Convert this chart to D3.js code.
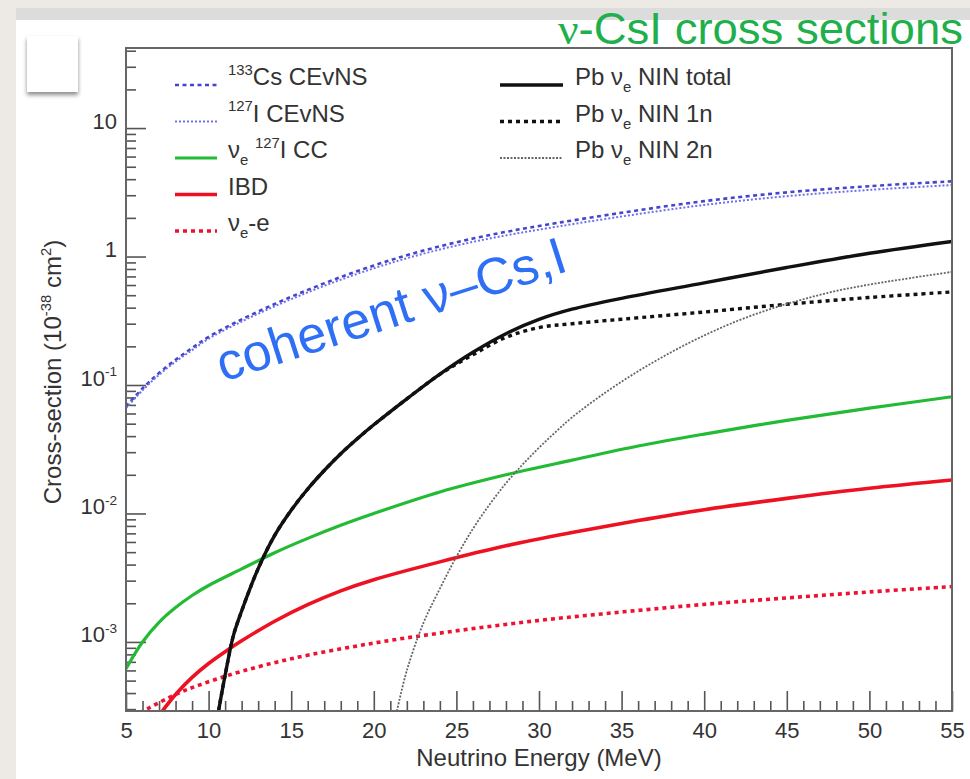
<!DOCTYPE html>
<html lang="en">
<head>
  <meta charset="utf-8" />
  <title>nu-CsI cross sections</title>
  <style>
    body {
      margin: 0;
      padding: 0;
      background-color: #edeae5;
      font-family: "Liberation Sans", Arial, sans-serif;
    }
    svg text {
      fill: #333;
    }
    .tick line {
      stroke: #555;
      stroke-width: 1.6px;
    }
    .curve {
      fill: none;
    }
  </style>
  <script src="https://d3js.org/d3.v7.min.js"></script>
</head>
<body>
  <svg width="970" height="779"></svg>
  <script>
    // values (energy in MeV, cross-section in 1e-38 cm^2)
    const cevnsE = [5, 6, 7, 8, 9, 10, 12, 14, 16, 18, 20, 22, 24, 26, 28, 30, 35, 40, 45, 50, 55];
    const cs133Cevns = [0.068, 0.094, 0.124, 0.157, 0.194, 0.237, 0.324, 0.427, 0.55, 0.692, 0.851, 1.023, 1.202, 1.38, 1.556, 1.73, 2.19, 2.70, 3.16, 3.53, 3.85];
    const i127Cevns = [0.066, 0.091, 0.12, 0.152, 0.187, 0.229, 0.312, 0.41, 0.527, 0.66, 0.81, 0.97, 1.135, 1.30, 1.46, 1.62, 2.05, 2.52, 2.95, 3.30, 3.60];

    const ccE = [5, 6, 7, 8, 9, 10, 12, 14, 16, 18, 20, 24, 28, 32, 36, 40, 45, 50, 55];
    const i127CC = [6.2e-4, 1.0e-3, 1.42e-3, 1.85e-3, 2.3e-3, 2.75e-3, 3.7e-3, 4.95e-3, 6.4e-3, 8.1e-3, 1.0e-2, 1.47e-2, 2.0e-2, 2.6e-2, 3.35e-2, 4.15e-2, 5.3e-2, 6.6e-2, 8.1e-2];

    const ibdE = [7.2, 8, 9, 10, 11, 12, 14, 16, 18, 20, 24, 28, 32, 36, 40, 45, 50, 55];
    const ibd = [2.9e-4, 3.9e-4, 5.3e-4, 6.8e-4, 8.4e-4, 1.02e-3, 1.45e-3, 1.95e-3, 2.5e-3, 3.05e-3, 4.2e-3, 5.6e-3, 7.1e-3, 8.8e-3, 1.07e-2, 1.31e-2, 1.57e-2, 1.82e-2];

    const nueE = [5, 8, 10, 12, 15, 20, 25, 30, 35, 40, 45, 50, 55];
    const nueElectron = [2.45e-4, 3.9e-4, 4.9e-4, 5.9e-4, 7.4e-4, 9.8e-4, 1.22e-3, 1.47e-3, 1.71e-3, 1.96e-3, 2.2e-3, 2.45e-3, 2.7e-3];

    const pbTotalE = [10.6, 11, 11.5, 12, 13, 14, 15, 16, 17, 18, 19, 20, 22, 24, 26, 28, 30, 32, 35, 40, 45, 50, 55];
    const pbTotal = [2.9e-4, 5.5e-4, 1.12e-3, 1.74e-3, 3.72e-3, 6.76e-3, 1.06e-2, 1.55e-2, 2.16e-2, 2.92e-2, 3.82e-2, 4.9e-2, 7.8e-2, 0.1216, 0.18, 0.251, 0.324, 0.389, 0.473, 0.624, 0.822, 1.06, 1.31];

    const pb1nE = [10.6, 11, 11.5, 12, 13, 14, 15, 16, 17, 18, 19, 20, 22, 24, 26, 28, 30, 32, 35, 40, 45, 50, 55];
    const pb1n = [2.9e-4, 5.5e-4, 1.12e-3, 1.74e-3, 3.72e-3, 6.76e-3, 1.06e-2, 1.55e-2, 2.16e-2, 2.92e-2, 3.82e-2, 4.9e-2, 7.8e-2, 0.121, 0.172, 0.235, 0.28, 0.30, 0.325, 0.37, 0.425, 0.48, 0.53];

    const pb2nE = [21.4, 22, 23, 24, 25, 26, 27, 28, 29, 30, 31, 32, 34, 36, 38, 40, 42, 44, 46, 48, 50, 52, 55];
    const pb2n = [2.9e-4, 6e-4, 1.4e-3, 2.6e-3, 4.6e-3, 7.6e-3, 1.17e-2, 1.72e-2, 2.4e-2, 3.25e-2, 4.3e-2, 5.6e-2, 8.7e-2, 0.128, 0.18, 0.243, 0.315, 0.39, 0.465, 0.54, 0.605, 0.665, 0.76];

    const xMajorTicks = [5, 10, 15, 20, 25, 30, 35, 40, 45, 50, 55];
    const yMajorTicks = [1e-3, 1e-2, 1e-1, 1, 10];
    const yTickLabels = ["10^{-3}", "10^{-2}", "10^{-1}", "1", "10"];

    const legendLeft = ["^{133}Cs CEvNS", "^{127}I CEvNS", "\u03bd_{e} ^{127}I CC", "IBD", "\u03bd_{e}-e"];
    const legendRight = ["Pb \u03bd_{e} NIN total", "Pb \u03bd_{e} NIN 1n", "Pb \u03bd_{e} NIN 2n"];

    const series = [
      { name: "cs", e: cevnsE, v: cs133Cevns, color: "#4545cc", width: 2.6, dash: "4,3.5" },
      { name: "i", e: cevnsE, v: i127Cevns, color: "#7070ee", width: 2, dash: "2,2" },
      { name: "cc", e: ccE, v: i127CC, color: "#22bb33", width: 3.2, dash: null },
      { name: "ibd", e: ibdE, v: ibd, color: "#ee1122", width: 3.6, dash: null },
      { name: "nue", e: nueE, v: nueElectron, color: "#ee1133", width: 3.6, dash: "4,4" },
      { name: "tot", e: pbTotalE, v: pbTotal, color: "#111", width: 3.4, dash: null },
      { name: "1n", e: pb1nE, v: pb1n, color: "#111", width: 3.4, dash: "4,4" },
      { name: "2n", e: pb2nE, v: pb2n, color: "#666", width: 1.8, dash: "2,1.5" }
    ];

    const svg = d3.select("svg");
    const plotL = 126, plotR = 952, plotT = 48, plotB = 711;

    // page backdrop
    svg.append("rect").attr("x", 16).attr("y", 8).attr("width", 954).attr("height", 12).attr("fill", "#dcdcdc");
    svg.append("rect").attr("x", 16).attr("y", 20).attr("width", 954).attr("height", 759).attr("fill", "#fff");

    const defs = svg.append("defs");
    const shadow = defs.append("filter").attr("id", "shadow").attr("x", "-30%").attr("y", "-30%").attr("width", "160%").attr("height", "160%");
    shadow.append("feDropShadow").attr("dx", 0).attr("dy", 3).attr("stdDeviation", 2).attr("flood-color", "#000").attr("flood-opacity", 0.45);
    svg.append("rect").attr("x", 27).attr("y", 36).attr("width", 51).attr("height", 56)
      .attr("fill", "#fff").attr("filter", "url(#shadow)");

    defs.append("clipPath").attr("id", "plotclip")
      .append("rect").attr("x", plotL).attr("y", plotT).attr("width", plotR - plotL).attr("height", plotB - plotT);

    const x = d3.scaleLinear().domain([5, 55]).range([plotL, plotR]);
    const y = d3.scaleLog().domain([2.9e-4, 42]).range([plotB, plotT]);

    // TLatex-ish text: ^{..} superscript, _{..} subscript
    function rich(textSel, str, size) {
      const parts = str.split(/(\^\{[^}]*\}|_\{[^}]*\})/).filter(s => s !== "");
      let shift = 0;
      parts.forEach(p => {
        let txt = p, fs = size, target = 0;
        if (p.startsWith("^{")) { txt = p.slice(2, -1); fs = size * 0.62; target = -0.42 * size; }
        else if (p.startsWith("_{")) { txt = p.slice(2, -1); fs = size * 0.62; target = 0.3 * size; }
        textSel.append("tspan").attr("dy", target - shift).attr("font-size", fs).text(txt);
        shift = target;
      });
    }

    // x axis ticks (inside)
    const xMinor = d3.range(5, 56, 1).filter(v => !xMajorTicks.includes(v));
    svg.append("g").attr("transform", `translate(0,${plotB})`)
      .call(d3.axisBottom(x).tickValues(xMinor).tickSize(-10).tickFormat(""))
      .call(g => g.select(".domain").remove());
    const xAxis = svg.append("g").attr("transform", `translate(0,${plotB})`)
      .call(d3.axisBottom(x).tickValues(xMajorTicks).tickSize(-20).tickPadding(11).tickFormat(d3.format("d")))
      .call(g => g.select(".domain").remove());
    xAxis.selectAll("text").attr("font-size", 22).attr("font-family", "Liberation Sans, Arial, sans-serif").attr("fill", "#333");

    // y axis ticks (inside)
    const yMinor = [];
    [-4, -3, -2, -1, 0, 1].forEach(p => {
      for (let m = 2; m <= 9; m++) {
        const v = m * Math.pow(10, p);
        if (v >= y.domain()[0] && v <= y.domain()[1]) yMinor.push(v);
      }
    });
    svg.append("g").attr("transform", `translate(${plotL},0)`)
      .call(d3.axisLeft(y).tickValues(yMinor).tickSize(-10).tickFormat(""))
      .call(g => g.select(".domain").remove());
    const yAxis = svg.append("g").attr("transform", `translate(${plotL},0)`)
      .call(d3.axisLeft(y).tickValues(yMajorTicks).tickSize(-20).tickPadding(9).tickFormat(""))
      .call(g => g.select(".domain").remove());
    yAxis.selectAll(".tick text").each(function (d) {
      const t = d3.select(this).text(null).attr("font-size", 22).attr("font-family", "Liberation Sans, Arial, sans-serif").attr("fill", "#333");
      rich(t, yTickLabels[yMajorTicks.indexOf(d)], 22);
    });

    // curves
    const line = d3.line().curve(d3.curveCatmullRom.alpha(0.5));
    const curves = svg.append("g").attr("clip-path", "url(#plotclip)");
    series.forEach(s => {
      const pts = s.e.map((e, i) => [x(e), y(s.v[i])]);
      curves.append("path").attr("class", "curve")
        .attr("d", line(pts))
        .attr("stroke", s.color)
        .attr("stroke-width", s.width)
        .attr("stroke-dasharray", s.dash);
    });

    // frame
    svg.append("rect").attr("x", plotL).attr("y", plotT).attr("width", plotR - plotL).attr("height", plotB - plotT)
      .attr("fill", "none").attr("stroke", "#666").attr("stroke-width", 2);

    // axis titles
    svg.append("text").attr("x", (plotL + plotR) / 2).attr("y", 766)
      .attr("text-anchor", "middle").attr("font-size", 24).text("Neutrino Energy (MeV)");
    const yTitle = svg.append("text")
      .attr("transform", "translate(61,372) rotate(-90)")
      .attr("text-anchor", "middle").attr("font-size", 24);
    rich(yTitle, "Cross-section (10^{-38} cm^{2})", 24);

    // legends
    const rowY = i => 85 + i * 36.5;
    legendLeft.forEach((lab, i) => {
      const s = series[i];
      svg.append("line").attr("x1", 175).attr("x2", 217).attr("y1", rowY(i)).attr("y2", rowY(i))
        .attr("stroke", s.color).attr("stroke-width", s.width).attr("stroke-dasharray", s.dash);
      const t = svg.append("text").attr("x", 228).attr("y", rowY(i)).attr("dy", "0.36em").attr("font-size", 24);
      rich(t, lab, 24);
    });
    legendRight.forEach((lab, i) => {
      const s = series[5 + i];
      svg.append("line").attr("x1", 500).attr("x2", 563).attr("y1", rowY(i)).attr("y2", rowY(i))
        .attr("stroke", s.color).attr("stroke-width", s.width).attr("stroke-dasharray", s.dash);
      const t = svg.append("text").attr("x", 575).attr("y", rowY(i)).attr("dy", "0.36em").attr("font-size", 24);
      rich(t, lab, 24);
    });

    // annotation inside plot
    svg.append("text")
      .attr("transform", "translate(223,382) rotate(-17.8)")
      .attr("font-size", 52)
      .style("fill", "#2f6ff5")
      .text("coherent \u03bd\u2013Cs,I");

    // slide title
    const title = svg.append("text").attr("x", 963).attr("y", 44)
      .attr("text-anchor", "end").attr("font-size", 44)
      .attr("textLength", 405).attr("lengthAdjust", "spacingAndGlyphs")
      .style("fill", "#1fb04c");
    title.append("tspan").attr("font-family", "Liberation Serif, serif").text("\u03bd");
    title.append("tspan").text("-CsI cross sections");
  </script>
</body>
</html>
